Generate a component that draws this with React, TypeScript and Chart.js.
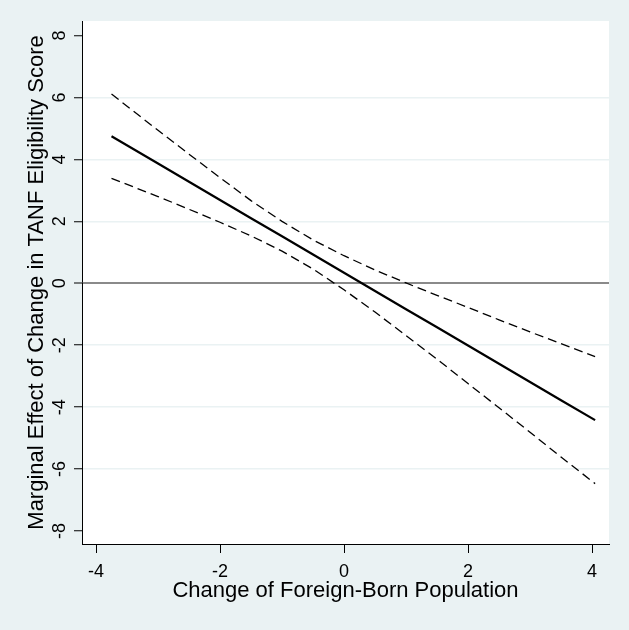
import React, { useEffect, useRef } from "react";
import { Chart, registerables } from "chart.js";

Chart.register(...registerables);

const xValues = [-3.75, -3, -2.5, -2, -1.5, -1, -0.5, 0, 0.5, 1, 1.5, 2, 2.5, 3, 3.5, 4.05];
const effect = [4.75, 3.87, 3.28, 2.69, 2.1, 1.52, 0.93, 0.34, -0.25, -0.84, -1.42, -2.01, -2.6, -3.19, -3.78, -4.42];
const upper = [6.11, 4.94, 4.17, 3.41, 2.67, 2.0, 1.4, 0.89, 0.43, 0.01, -0.39, -0.78, -1.18, -1.57, -1.95, -2.37];
const lower = [3.39, 2.8, 2.39, 1.97, 1.53, 1.04, 0.46, -0.21, -0.93, -1.69, -2.45, -3.24, -4.02, -4.81, -5.61, -6.47];

const xTicks = [-4, -2, 0, 2, 4];
const yTicks = [-8, -6, -4, -2, 0, 2, 4, 6, 8];
const gridValues = [-6, -4, -2, 2, 4, 6];
const refLineValue = 0;

const xTitle = "Change of Foreign-Born Population";
const yTitle = "Marginal Effect of Change in TANF Eligibility Score";

const BG = "#EAF2F3";
const FONT = "'Liberation Sans', Arial, Helvetica, sans-serif";

const bgPlugin = {
  id: "stataBg",
  beforeDraw(chart: any) {
    const { ctx, chartArea } = chart;
    ctx.save();
    ctx.fillStyle = BG;
    ctx.fillRect(0, 0, chart.width, chart.height);
    ctx.fillStyle = "#ffffff";
    ctx.fillRect(chartArea.left, chartArea.top, chartArea.right - chartArea.left, chartArea.bottom - chartArea.top);
    ctx.restore();
  },
};

export default function App() {
  const ref = useRef<HTMLCanvasElement | null>(null);

  useEffect(() => {
    if (!ref.current) return;
    const pts = (ys: number[]) => xValues.map((x, i) => ({ x, y: ys[i] }));
    const chart = new Chart(ref.current, {
      type: "line",
      data: {
        datasets: [
          {
            data: pts(upper),
            borderColor: "#000",
            borderWidth: 1.3,
            borderDash: [9, 5],
            pointRadius: 0,
            tension: 0,
          },
          {
            data: pts(effect),
            borderColor: "#000",
            borderWidth: 2.2,
            pointRadius: 0,
            tension: 0,
          },
          {
            data: pts(lower),
            borderColor: "#000",
            borderWidth: 1.3,
            borderDash: [9, 5],
            pointRadius: 0,
            tension: 0,
          },
        ],
      },
      options: {
        animation: false,
        responsive: false,
        events: [],
        layout: { padding: { top: 21, right: 20, left: 0, bottom: 0 } },
        plugins: { legend: { display: false }, tooltip: { enabled: false } },
        scales: {
          x: {
            type: "linear",
            min: -4.226,
            max: 4.274,
            afterBuildTicks: (s: any) => {
              s.ticks = xTicks.map((v) => ({ value: v }));
            },
            afterFit: (s: any) => {
              s.height = 86;
            },
            border: { display: true, color: "#000", width: 1 },
            grid: {
              drawOnChartArea: false,
              drawTicks: true,
              tickLength: 9,
              tickColor: "#000",
              tickWidth: 1,
            },
            ticks: {
              color: "#000",
              font: { family: FONT, size: 18 },
              padding: 8,
              maxRotation: 0,
              minRotation: 0,
              callback: (v: any) => String(v),
            },
            title: {
              display: true,
              text: xTitle,
              color: "#000",
              font: { family: FONT, size: 22 },
              padding: { top: 0, bottom: 26 },
            },
          },
          y: {
            type: "linear",
            min: -8.42,
            max: 8.47,
            afterBuildTicks: (s: any) => {
              s.ticks = yTicks.map((v) => ({ value: v }));
            },
            afterFit: (s: any) => {
              s.width = 82;
            },
            border: { display: true, color: "#000", width: 1 },
            grid: {
              drawOnChartArea: true,
              drawTicks: true,
              tickLength: 8,
              tickColor: "#000",
              tickWidth: 1,
              color: (c: any) => {
                const v = c.tick ? c.tick.value : null;
                if (v === refLineValue) return "#8a8a8a";
                if (gridValues.includes(v)) return BG;
                return "rgba(0,0,0,0)";
              },
              lineWidth: (c: any) => {
                const v = c.tick ? c.tick.value : null;
                return v === refLineValue ? 2 : 1.5;
              },
            },
            ticks: {
              color: "#000",
              font: { family: FONT, size: 18 },
              padding: 6,
              minRotation: 90,
              maxRotation: 90,
              crossAlign: "center",
              callback: (v: any) => String(v),
            },
            title: {
              display: true,
              text: yTitle,
              color: "#000",
              font: { family: FONT, size: 22 },
              padding: { top: 24, bottom: 0 },
            },
          },
        },
      },
      plugins: [bgPlugin],
    });
    return () => chart.destroy();
  }, []);

  return (
    <div style={{ position: "fixed", left: 0, top: 0, width: 629, height: 630, background: BG }}>
      <canvas ref={ref} width={629} height={630} style={{ display: "block" }} />
    </div>
  );
}
